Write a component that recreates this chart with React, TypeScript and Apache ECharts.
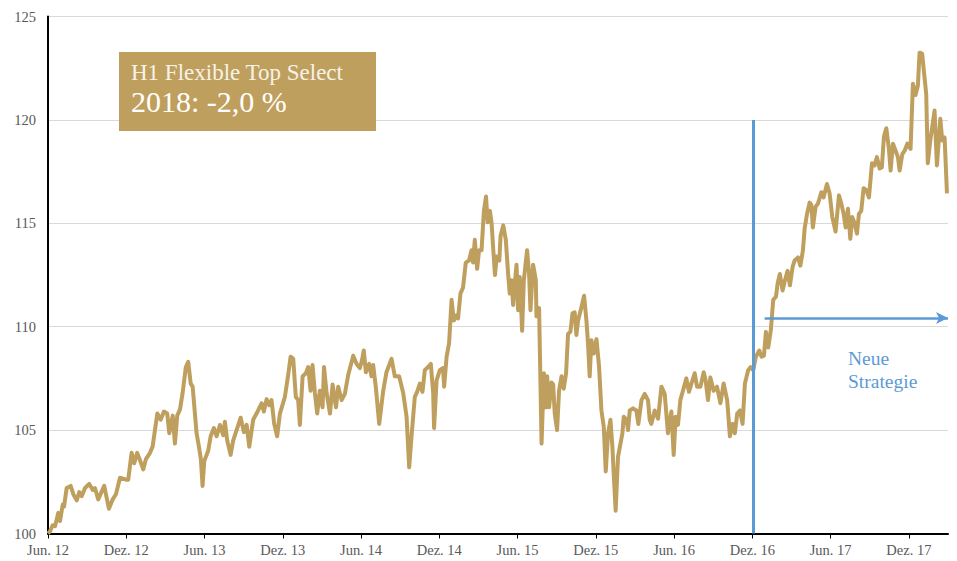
import React, { useEffect, useRef } from "react";
import * as echarts from "echarts";

// x = months since June 2012, y = index value
const months: number[] = [
  0, 0.15, 0.36, 0.54, 0.79, 0.92, 1.13, 1.23, 1.43, 1.74, 1.94, 2.2, 2.4, 2.58, 2.84, 3.16, 3.43, 3.6, 3.85, 4.31,
  4.67, 4.96, 5.21, 5.52, 5.98, 6.15, 6.41, 6.61, 6.84, 7.05, 7.3, 7.51, 7.82, 8.02, 8.38, 8.64, 8.89, 9.14, 9.3, 9.56,
  9.73, 9.91, 10.12, 10.32, 10.57, 10.75, 10.94, 11.09, 11.39, 11.57, 11.72, 11.85, 11.98, 12.28, 12.47, 12.72, 12.93, 13.18, 13.43, 13.56,
  13.74, 14.0, 14.2, 14.46, 14.77, 15.02, 15.23, 15.43, 15.73, 16.11, 16.38, 16.55, 16.76, 16.96, 17.14, 17.34, 17.57, 17.78, 18.16, 18.41,
  18.6, 18.8, 19.0, 19.18, 19.31, 19.52, 19.77, 19.95, 20.13, 20.28, 20.46, 20.64, 20.84, 21.05, 21.16, 21.36, 21.62, 21.82, 22.08, 22.25,
  22.51, 22.76, 23.01, 23.4, 23.66, 23.91, 24.08, 24.21, 24.37, 24.62, 24.8, 24.93, 25.13, 25.39, 25.7, 25.95, 26.34, 26.59, 26.92, 27.23,
  27.49, 27.69, 27.87, 28.12, 28.3, 28.51, 28.71, 28.89, 29.14, 29.35, 29.53, 29.6, 29.79, 30.04, 30.29, 30.37, 30.56, 30.75, 30.94, 31.11,
  31.32, 31.44, 31.62, 31.82, 32.03, 32.28, 32.47, 32.59, 32.72, 32.9, 33.05, 33.24, 33.42, 33.58, 33.71, 33.88, 34.01, 34.14, 34.27, 34.4,
  34.6, 34.7, 34.9, 35.1, 35.27, 35.4, 35.53, 35.66, 35.79, 35.92, 36.04, 36.17, 36.35, 36.48, 36.73, 36.88, 36.99, 37.19, 37.4, 37.45,
  37.65, 37.84, 38.02, 38.17, 38.27, 38.42, 38.6, 38.73, 38.85, 39.03, 39.18, 39.37, 39.54, 39.72, 39.87, 40.05, 40.21, 40.38, 40.51, 40.64,
  40.9, 41.1, 41.28, 41.4, 41.53, 41.66, 41.84, 42.05, 42.25, 42.43, 42.61, 42.76, 42.94, 43.12, 43.27, 43.37, 43.52, 43.7, 43.89, 44.04,
  44.14, 44.35, 44.47, 44.6, 44.85, 45.11, 45.26, 45.5, 45.75, 46.0, 46.13, 46.26, 46.51, 46.77, 47.03, 47.28, 47.53, 47.79, 47.97, 48.12,
  48.3, 48.48, 48.68, 48.94, 49.14, 49.33, 49.58, 49.76, 50.02, 50.27, 50.42, 50.6, 50.78, 51.03, 51.29, 51.55, 51.8, 52.07, 52.28, 52.49,
  52.66, 52.84, 53.05, 53.25, 53.43, 53.68, 53.87, 54.07, 54.27, 54.53, 54.71, 54.89, 55.04, 55.22, 55.42, 55.6, 55.81, 55.94, 56.11, 56.32,
  56.5, 56.7, 56.88, 57.09, 57.24, 57.5, 57.68, 57.88, 58.01, 58.19, 58.39, 58.52, 58.64, 58.85, 59.03, 59.29, 59.46, 59.72, 59.92, 60.13,
  60.38, 60.64, 60.82, 61.0, 61.15, 61.33, 61.51, 61.66, 61.84, 62.02, 62.17, 62.35, 62.53, 62.74, 62.94, 63.17, 63.37, 63.55, 63.76, 63.93,
  64.09, 64.27, 64.47, 64.6, 64.78, 64.99, 65.16, 65.29, 65.5, 65.67, 65.88, 66.13, 66.31, 66.51, 66.69, 66.82, 67.02, 67.2, 67.33, 67.45,
  67.64, 67.79, 67.97, 68.15, 68.28, 68.41, 68.56, 68.74, 68.92,
];

const values: number[] = [
  100.0, 100.1, 100.4, 100.35, 101.0, 100.6, 101.4, 101.3, 102.2, 102.3, 101.9, 101.6, 102.0, 101.8, 102.2, 102.4, 102.1, 102.2, 101.65, 102.3,
  101.2, 101.65, 101.9, 102.7, 102.6, 102.6, 103.9, 103.4, 103.9, 103.55, 103.1, 103.6, 103.9, 104.2, 105.8, 105.5, 105.9, 105.8, 104.85, 105.7,
  104.35, 105.7, 106.0, 106.8, 108.05, 108.3, 107.25, 107.1, 104.85, 104.2, 103.6, 102.3, 103.5, 104.0, 104.7, 105.1, 104.7, 105.25, 104.75, 105.4,
  104.5, 103.8, 104.5, 105.0, 105.6, 104.9, 105.25, 104.2, 105.5, 105.95, 106.3, 105.9, 106.5, 106.2, 106.45, 105.3, 104.7, 105.8, 106.6, 107.65,
  108.55, 108.45, 106.6, 106.45, 105.25, 107.6, 107.75, 108.05, 106.9, 108.15, 106.8, 105.8, 106.9, 106.1, 108.05, 106.8, 105.8, 107.2, 106.1, 107.1,
  106.45, 106.75, 107.65, 108.6, 108.2, 108.0, 108.4, 108.85, 107.8, 108.2, 107.6, 108.15, 107.1, 105.3, 106.9, 107.8, 108.45, 107.6, 107.6, 106.8,
  105.65, 103.2, 104.7, 106.6, 106.85, 107.25, 106.85, 107.9, 108.05, 108.2, 106.8, 105.1, 107.4, 107.9, 108.0, 107.1, 108.55, 109.2, 111.3, 110.3,
  110.55, 110.4, 111.6, 111.9, 113.1, 113.2, 113.7, 113.1, 114.2, 112.8, 113.7, 113.7, 115.6, 116.3, 115.05, 115.6, 115.0, 113.7, 112.5, 113.4,
  113.2, 114.4, 114.9, 114.2, 112.6, 111.6, 112.25, 111.05, 112.1, 113.0, 110.8, 112.4, 109.8, 112.25, 113.7, 112.6, 110.8, 113.0, 112.25, 110.5,
  110.9, 104.35, 107.75, 106.1, 107.6, 106.1, 107.3, 107.2, 105.8, 105.0, 106.9, 107.6, 107.0, 107.75, 109.65, 109.75, 110.65, 110.7, 109.6, 110.3,
  110.95, 111.5, 110.3, 109.2, 107.6, 109.35, 108.7, 109.4, 108.05, 105.95, 105.15, 103.0, 104.85, 105.5, 104.2, 102.9, 101.1, 103.7, 104.35, 104.85,
  105.65, 105.5, 105.0, 105.95, 106.05, 105.95, 105.3, 106.45, 106.75, 106.45, 105.5, 105.3, 105.95, 105.55, 107.1, 106.75, 104.85, 105.9, 103.8, 105.65,
  105.25, 106.45, 106.9, 107.5, 106.85, 107.25, 107.75, 107.1, 107.1, 107.8, 107.4, 106.45, 107.55, 106.9, 107.1, 106.3, 107.25, 106.45, 104.7, 105.3,
  104.85, 105.8, 105.95, 105.3, 107.25, 107.9, 108.05, 107.9, 108.55, 108.85, 108.55, 108.6, 109.75, 109.0, 109.85, 111.3, 111.45, 112.1, 112.55, 111.75,
  112.25, 112.7, 112.0, 112.9, 113.2, 113.35, 112.95, 113.7, 114.75, 115.45, 116.0, 115.9, 114.8, 115.8, 115.95, 116.5, 116.25, 116.9, 116.45, 115.3,
  114.6, 116.35, 115.95, 115.45, 114.8, 115.7, 114.25, 115.3, 115.0, 114.5, 115.45, 115.6, 116.7, 116.6, 116.25, 117.9, 117.8, 118.2, 117.65, 117.7,
  119.2, 119.6, 118.6, 117.55, 118.85, 118.5, 118.2, 117.55, 118.35, 118.5, 118.85, 118.6, 121.75, 121.2, 121.65, 123.25, 123.2, 122.05, 121.25, 117.9,
  119.0, 119.65, 120.45, 117.8, 118.9, 120.05, 119.0, 119.15, 116.45,
];

const xTickMonths: number[] = [0, 6, 12, 18, 24, 30, 36, 42, 48, 54, 60, 66];
const xTickLabels: string[] = [
  "Jun. 12", "Dez. 12", "Jun. 13", "Dez. 13", "Jun. 14", "Dez. 14",
  "Jun. 15", "Dez. 15", "Jun. 16", "Dez. 16", "Jun. 17", "Dez. 17",
];

const fundName = "H1 Flexible Top Select";
const ytdText = "2018: -2,0 %";
const strategyLabel = ["Neue", "Strategie"];
const strategyStartMonth = 54.07;
const strategyLineTop = 120;
const arrowStartMonth = 54.94;
const arrowEndMonth = 69;
const arrowLevel = 110.42;

const GOLD = "#BF9F5E";
const BLUE = "#5B9BD5";
const SERIF = "'Liberation Serif', 'Times New Roman', serif";

export default function App() {
  const ref = useRef<HTMLDivElement>(null);
  useEffect(() => {
    if (!ref.current) return;
    const chart = echarts.init(ref.current, null, { renderer: "svg" });
    const data = months.map((m, i) => [m, values[i]]);
    chart.setOption({
      animation: false,
      backgroundColor: "#ffffff",
      grid: { left: 48, right: 9, top: 16.5, bottom: 27.5, containLabel: false },
      xAxis: {
        type: "value",
        min: 0,
        max: 69,
        interval: 6,
        axisLine: { show: true, onZero: false, lineStyle: { color: "#000", width: 2 } },
        axisTick: { show: true, length: 5, lineStyle: { color: "#000", width: 1 }, customValues: xTickMonths },
        splitLine: { show: false },
        axisLabel: {
          customValues: xTickMonths,
          color: "#595959",
          fontFamily: SERIF,
          fontSize: 14.5,
          margin: 9,
          formatter: (v: number) => {
            const idx = xTickMonths.indexOf(Math.round(v));
            return idx >= 0 ? xTickLabels[idx] : "";
          },
        },
      },
      yAxis: {
        type: "value",
        min: 100,
        max: 125,
        interval: 5,
        axisLine: { show: true, lineStyle: { color: "#000", width: 2 } },
        axisTick: { show: false },
        splitLine: { show: true, lineStyle: { color: "#D9D9D9", width: 1.2 } },
        axisLabel: { color: "#595959", fontFamily: SERIF, fontSize: 14.5, margin: 12 },
      },
      series: [
        {
          type: "line",
          data,
          showSymbol: false,
          symbol: "none",
          lineStyle: { color: GOLD, width: 4, join: "round" },
          z: 3,
          markLine: {
            silent: true,
            symbol: "none",
            label: { show: false },
            lineStyle: { color: BLUE, width: 3, type: "solid" },
            data: [
              [
                { coord: [strategyStartMonth, strategyLineTop], symbol: "none" },
                { coord: [strategyStartMonth, 100], symbol: "none" },
              ],
              [
                { coord: [arrowStartMonth, arrowLevel], symbol: "none" },
                { coord: [arrowEndMonth, arrowLevel], symbol: "arrow", symbolSize: [9, 12], lineStyle: { width: 2.5 } },
              ],
            ],
          },
        },
      ],
      graphic: [
        { type: "rect", shape: { x: 119, y: 52, width: 257, height: 79 }, style: { fill: GOLD }, z: 10 },
        {
          type: "text",
          x: 131,
          y: 72.5,
          style: { text: fundName, fill: "#F7F2E8", font: `23px ${SERIF}`, textVerticalAlign: "middle" },
          z: 11,
        },
        {
          type: "text",
          x: 131,
          y: 101.5,
          style: { text: ytdText, fill: "#FFFFFF", font: `30px ${SERIF}`, textVerticalAlign: "middle" },
          z: 11,
        },
        {
          type: "text",
          x: 848,
          y: 358.6,
          style: { text: strategyLabel[0], fill: BLUE, font: `19.5px ${SERIF}`, textVerticalAlign: "middle" },
          z: 11,
        },
        {
          type: "text",
          x: 848,
          y: 381.6,
          style: { text: strategyLabel[1], fill: BLUE, font: `19.5px ${SERIF}`, textVerticalAlign: "middle" },
          z: 11,
        },
      ],
    });
    return () => chart.dispose();
  }, []);
  return <div ref={ref} style={{ width: 957, height: 561, position: "absolute", left: 0, top: 0 }} />;
}
